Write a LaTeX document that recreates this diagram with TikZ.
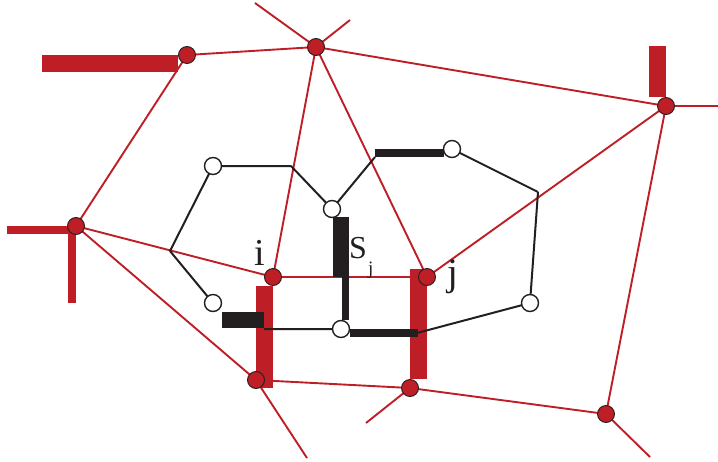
\documentclass[tikz,border=0pt]{standalone}
\usepackage{fontspec}
\setmainfont{Liberation Serif}
\definecolor{redc}{RGB}{190,30,38}
\definecolor{blk}{RGB}{35,31,32}
\tikzset{
  rnode/.style={circle,fill=redc,draw=blk,line width=0.9pt,minimum size=17pt,inner sep=0pt},
  wnode/.style={circle,fill=white,draw=blk,line width=1.4pt,minimum size=17pt,inner sep=0pt},
  redline/.style={draw=redc,line width=1.9pt},
  blkline/.style={draw=blk,line width=2pt},
  redbar/.style={fill=redc},
  blkbar/.style={fill=blk},
  lab/.style={text=blk,inner sep=0pt,anchor=base}
}
\begin{document}
\begin{tikzpicture}[x=1pt,y=-1pt]
\useasboundingbox (0,0) rectangle (718,461);
% red node positions
\coordinate (A) at (187,55);
\coordinate (B) at (316,47);
\coordinate (C) at (666,106);
\coordinate (D) at (76,226);
\coordinate (I) at (273,277);
\coordinate (J) at (427,277);
\coordinate (E) at (256,380);
\coordinate (F) at (410,388);
\coordinate (G) at (606,414);
% spoke ends
\coordinate (b1) at (255,3);
\coordinate (b2) at (350,20);
\coordinate (c1) at (718,106);
\coordinate (e1) at (307,458);
\coordinate (f1) at (366,423);
\coordinate (g1) at (650,457);
% black network positions
\coordinate (W1) at (213,166);
\coordinate (W2) at (332,209);
\coordinate (W3) at (452,149);
\coordinate (W4) at (213,303);
\coordinate (W5) at (341,329);
\coordinate (W6) at (530,303);
\coordinate (k1) at (291,166);
\coordinate (k2) at (375,157);
\coordinate (k3) at (538,192);
\coordinate (k4) at (170,251);
\coordinate (k5) at (264,329);
\coordinate (k6) at (417,333);
% red lines
\path[redline] (A)--(B) (A)--(D) (B)--(C) (B)--(I) (B)--(J) (B)--(b1) (B)--(b2)
  (C)--(J) (C)--(G) (C)--(c1) (D)--(I) (D)--(E) (I)--(J) (E)--(F) (E)--(e1)
  (F)--(G) (F)--(f1) (G)--(g1);
% red bars
\fill[redbar] (42,55) rectangle (178,72);
\fill[redbar] (7,226) rectangle (72,234);
\fill[redbar] (68,226) rectangle (76,303);
\fill[redbar] (649,46) rectangle (666,97);
\fill[redbar] (256,286) rectangle (273,388);
\fill[redbar] (410,269) rectangle (427,379);
% black lines
\path[blkline] (W1)--(k1) (W1)--(k4) (k4)--(W4) (k1)--(W2) (W2)--(k2)
  (W3)--(k3) (k3)--(W6) (W6)--(k6) (W5)--(k5);
% black bars
\fill[blkbar] (375,149) rectangle (444,157);
\fill[blkbar] (222,312) rectangle (264,328);
\fill[blkbar] (350,329) rectangle (418,337);
\fill[blkbar] (333,217) rectangle (349,277);
\fill[blkbar] (342,277) rectangle (349,320);
% nodes
\foreach \n in {A,B,C,D,I,J,E,F,G} \node[rnode] (n\n) at (\n) {};
\foreach \n in {W1,W2,W3,W4,W5,W6} \node[wnode] (n\n) at (\n) {};
% labels
\node[lab,font=\fontsize{38}{38}\selectfont] (li) at (260,265) {i};
\node[lab,font=\fontsize{32}{32}\selectfont,anchor=base west] (ls) at (349,258.5) {S};
\node[lab,font=\fontsize{19}{19}\selectfont,anchor=base west] (lsj) at (368,274) {j};
\node[lab,font=\fontsize{39}{39}\selectfont] (lj) at (453,285) {j};
\end{tikzpicture}
\end{document}
